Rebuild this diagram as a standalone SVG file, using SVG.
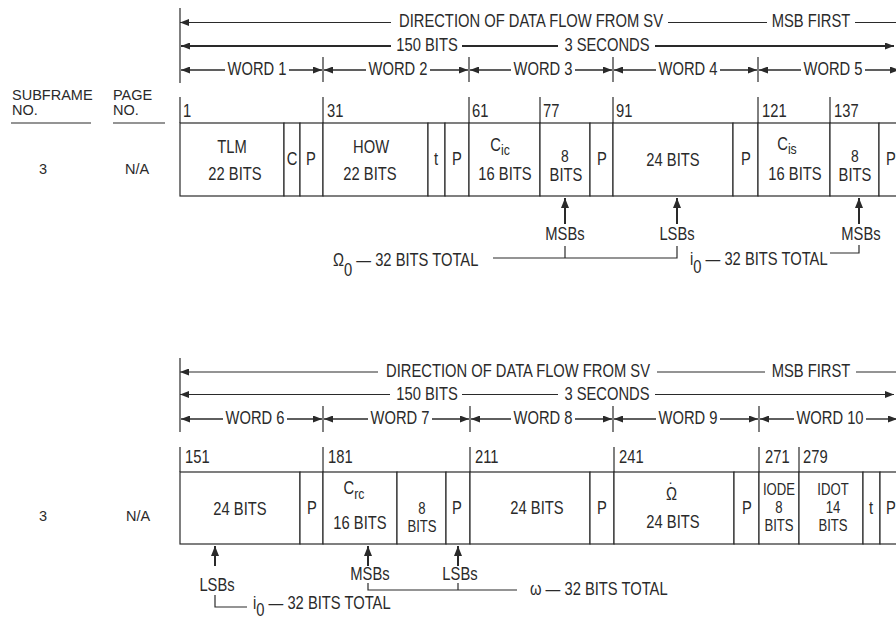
<svg xmlns="http://www.w3.org/2000/svg" width="896" height="619" viewBox="0 0 896 619">
<style>
text{font-family:"Liberation Sans",Arial,Helvetica,sans-serif;fill:#2a2a2a}
.m,.s{font-size:18px;transform-box:fill-box;transform:scaleX(0.82)}
.m{text-anchor:middle;transform-origin:50% 50%}
.s{text-anchor:start;transform-origin:0% 50%}
.m2{font-size:16px}
.m3{font-size:17px}
.lb{font-size:14.5px}
.lbm{font-size:14.5px;text-anchor:middle}
.sb{font-size:15px}
.ln{stroke:#2a2a2a;stroke-width:1.2;fill:none}
.th{stroke:#2a2a2a;stroke-width:2;fill:none}
.ar{stroke:#2a2a2a;stroke-width:1.4;fill:none}
.va{stroke:#2a2a2a;stroke-width:2;fill:none}
.cell{fill:#fff;stroke:#2a2a2a;stroke-width:1.2}
</style>
<defs>
<marker id="ah" viewBox="0 0 9 7" refX="9" refY="3.5" markerWidth="9" markerHeight="7" markerUnits="userSpaceOnUse" orient="auto-start-reverse">
<path d="M0,0 L9,3.5 L0,7 z" fill="#2a2a2a"/>
</marker>
<marker id="vh" viewBox="0 0 10 8" refX="10" refY="4" markerWidth="10" markerHeight="8" markerUnits="userSpaceOnUse" orient="auto">
<path d="M0,0 L10,4 L0,8 z" fill="#2a2a2a"/>
</marker>
</defs>
<rect width="896" height="619" fill="#fff"/>

<!-- column headers -->
<g id="hdr-subframe">
<text class="lb" x="12" y="100">SUBFRAME</text>
<text class="lb" x="12" y="115">NO.</text>
<line class="ln" x1="11" y1="123" x2="91" y2="123"/>
</g>
<g id="hdr-page">
<text class="lb" x="113" y="100">PAGE</text>
<text class="lb" x="113" y="115">NO.</text>
<line class="ln" x1="113" y1="123" x2="165" y2="123"/>
</g>
<g id="row1-labels">
<text class="lbm" x="43" y="174">3</text>
<text class="lbm" x="137" y="174">N/A</text>
</g>
<g id="row2-labels">
<text class="lbm" x="43" y="521">3</text>
<text class="lbm" x="138" y="521">N/A</text>
</g>

<!-- top header texts -->
<g id="top-header">
<text class="m" x="531" y="27">DIRECTION OF DATA FLOW FROM SV</text>
<text class="m" x="811" y="27">MSB FIRST</text>
<text class="m" x="427" y="51">150 BITS</text>
<text class="m" x="607" y="51">3 SECONDS</text>
<text class="m" x="257" y="75.5">WORD 1</text>
<text class="m" x="398" y="75.5">WORD 2</text>
<text class="m" x="543" y="75.5">WORD 3</text>
<text class="m" x="688" y="75.5">WORD 4</text>
<text class="m" x="833" y="75.5">WORD 5</text>
<text class="s" x="183" y="117">1</text>
<text class="s" x="327" y="117">31</text>
<text class="s" x="472" y="117">61</text>
<text class="s" x="543" y="117">77</text>
<text class="s" x="616" y="117">91</text>
<text class="s" x="762" y="117">121</text>
<text class="s" x="834" y="117">137</text>
</g>

<!-- top table cells -->
<g id="tlm"><rect class="cell" x="180" y="123" width="104" height="73"/><text class="m" x="232" y="153">TLM</text><text class="m" x="235" y="180">22 BITS</text></g>
<g id="c1"><rect class="cell" x="284" y="123" width="16" height="73"/><text class="m" x="292" y="165">C</text></g>
<g id="p1"><rect class="cell" x="300" y="123" width="23" height="73"/><text class="m" x="311" y="165">P</text></g>
<g id="how"><rect class="cell" x="323" y="123" width="105" height="73"/><text class="m" x="371" y="153">HOW</text><text class="m" x="370" y="180">22 BITS</text></g>
<g id="t1"><rect class="cell" x="428" y="123" width="17" height="73"/><text class="m" x="436" y="165">t</text></g>
<g id="p2"><rect class="cell" x="445" y="123" width="24" height="73"/><text class="m" x="457" y="165">P</text></g>
<g id="cic"><rect class="cell" x="469" y="123" width="71" height="73"/><text class="m" x="500" y="151">C<tspan class="sb" dy="4">ic</tspan></text><text class="m" x="505" y="180">16 BITS</text></g>
<g id="omega0-lsb8"><rect class="cell" x="540" y="123" width="50" height="73"/><text class="m m3" x="565" y="162">8</text><text class="m" x="566" y="181">BITS</text></g>
<g id="p3"><rect class="cell" x="590" y="123" width="23" height="73"/><text class="m" x="602" y="165">P</text></g>
<g id="omega0-lsb24"><rect class="cell" x="613" y="123" width="120" height="73"/><text class="m" x="673" y="166">24 BITS</text></g>
<g id="p4"><rect class="cell" x="733" y="123" width="25" height="73"/><text class="m" x="746" y="165">P</text></g>
<g id="cis"><rect class="cell" x="758" y="123" width="72" height="73"/><text class="m" x="787" y="150">C<tspan class="sb" dy="4">is</tspan></text><text class="m" x="795" y="180">16 BITS</text></g>
<g id="i0-msb8"><rect class="cell" x="830" y="123" width="49" height="73"/><text class="m m3" x="855" y="162">8</text><text class="m" x="855" y="181">BITS</text></g>
<g id="p5"><rect class="cell" x="879" y="123" width="30" height="73"/><text class="s" x="886" y="165">P</text></g>

<!-- top annotations -->
<g id="top-notes">
<text class="m" x="565" y="240">MSBs</text>
<text class="m" x="677" y="240">LSBs</text>
<text class="m" x="861" y="240">MSBs</text>
<text class="s" x="333" y="266">Ω<tspan dy="10">0</tspan><tspan dy="-10"> — 32 BITS TOTAL</tspan></text>
<text class="s" x="690" y="265">i<tspan dy="8">0</tspan><tspan dy="-8"> — 32 BITS TOTAL</tspan></text>
</g>

<!-- bottom header texts -->
<g id="bottom-header">
<text class="m" x="518" y="377">DIRECTION OF DATA FLOW FROM SV</text>
<text class="m" x="811" y="377">MSB FIRST</text>
<text class="m" x="427" y="400">150 BITS</text>
<text class="m" x="607" y="400">3 SECONDS</text>
<text class="m" x="255" y="424.5">WORD 6</text>
<text class="m" x="400" y="424.5">WORD 7</text>
<text class="m" x="543" y="424.5">WORD 8</text>
<text class="m" x="688" y="424.5">WORD 9</text>
<text class="m" x="830" y="424.5">WORD 10</text>
<text class="s" x="185" y="463">151</text>
<text class="s" x="328" y="463">181</text>
<text class="s" x="475" y="463">211</text>
<text class="s" x="619" y="463">241</text>
<text class="s" x="765" y="463">271</text>
<text class="s" x="803" y="463">279</text>
</g>

<!-- bottom table cells -->
<g id="i0-lsb24"><rect class="cell" x="180" y="472" width="120" height="72"/><text class="m" x="240" y="515">24 BITS</text></g>
<g id="p6"><rect class="cell" x="300" y="472" width="23" height="72"/><text class="m" x="312" y="514">P</text></g>
<g id="crc"><rect class="cell" x="323" y="472" width="74" height="72"/><text class="m" x="354" y="494">C<tspan class="sb" dy="5">rc</tspan></text><text class="m" x="360" y="529">16 BITS</text></g>
<g id="omega-msb8"><rect class="cell" x="397" y="472" width="49" height="72"/><text class="m m2" x="422" y="514">8</text><text class="m m2" x="422" y="532">BITS</text></g>
<g id="p7"><rect class="cell" x="446" y="472" width="24" height="72"/><text class="m" x="457" y="514">P</text></g>
<g id="omega-lsb24"><rect class="cell" x="470" y="472" width="120" height="72"/><text class="m" x="537" y="514">24 BITS</text></g>
<g id="p8"><rect class="cell" x="590" y="472" width="24" height="72"/><text class="m" x="602" y="514">P</text></g>
<g id="omegadot"><rect class="cell" x="614" y="472" width="120" height="72"/><text class="s" x="666" y="500">Ω<tspan dx="-10" dy="-4">˙</tspan></text><text class="m" x="673" y="528">24 BITS</text></g>
<g id="p9"><rect class="cell" x="734" y="472" width="25" height="72"/><text class="m" x="747" y="514">P</text></g>
<g id="iode"><rect class="cell" x="759" y="472" width="40" height="72"/><text class="m m2" x="779" y="495">IODE</text><text class="m m2" x="779" y="513">8</text><text class="m m2" x="779" y="531">BITS</text></g>
<g id="idot"><rect class="cell" x="799" y="472" width="64" height="72"/><text class="m m2" x="833" y="495">IDOT</text><text class="m m2" x="833" y="513">14</text><text class="m m2" x="833" y="531">BITS</text></g>
<g id="t2"><rect class="cell" x="863" y="472" width="17" height="72"/><text class="m" x="871" y="514">t</text></g>
<g id="p10"><rect class="cell" x="880" y="472" width="30" height="72"/><text class="s" x="886" y="514">P</text></g>

<!-- bottom annotations -->
<g id="bottom-notes">
<text class="m" x="217" y="591">LSBs</text>
<text class="m" x="370" y="580">MSBs</text>
<text class="m" x="460" y="580">LSBs</text>
<text class="s" x="530" y="595">ω — 32 BITS TOTAL</text>
<text class="s" x="253" y="609">i<tspan dy="7">0</tspan><tspan dy="-7"> — 32 BITS TOTAL</tspan></text>
</g>

<!-- connectors -->
<g id="connectors">
<!-- top header -->
<line class="ln" x1="180" y1="8" x2="180" y2="83"/>
<line class="ln" x1="180" y1="22.5" x2="391" y2="22.5" marker-start="url(#ah)"/>
<line class="ln" x1="668" y1="22.5" x2="767" y2="22.5"/>
<line class="ln" x1="855" y1="22.5" x2="896" y2="22.5"/>
<line class="th" x1="181" y1="46" x2="391" y2="46" marker-start="url(#ah)"/>
<line class="th" x1="462" y1="46" x2="558" y2="46"/>
<line class="th" x1="655" y1="46" x2="894" y2="46" marker-end="url(#ah)"/>
<line class="ln" x1="323" y1="57" x2="323" y2="82"/>
<line class="ln" x1="469" y1="57" x2="469" y2="82"/>
<line class="ln" x1="613" y1="57" x2="613" y2="82"/>
<line class="ln" x1="758" y1="57" x2="758" y2="82"/>
<line class="ar" x1="181" y1="70" x2="225" y2="70" marker-start="url(#ah)"/>
<line class="ar" x1="289" y1="70" x2="322" y2="70" marker-end="url(#ah)"/>
<line class="ar" x1="324" y1="70" x2="366" y2="70" marker-start="url(#ah)"/>
<line class="ar" x1="430" y1="70" x2="468" y2="70" marker-end="url(#ah)"/>
<line class="ar" x1="470" y1="70" x2="511" y2="70" marker-start="url(#ah)"/>
<line class="ar" x1="575" y1="70" x2="612" y2="70" marker-end="url(#ah)"/>
<line class="ar" x1="614" y1="70" x2="656" y2="70" marker-start="url(#ah)"/>
<line class="ar" x1="720" y1="70" x2="757" y2="70" marker-end="url(#ah)"/>
<line class="ar" x1="759" y1="70" x2="801" y2="70" marker-start="url(#ah)"/>
<line class="ar" x1="865" y1="70" x2="899" y2="70" marker-end="url(#ah)"/>
<line class="ln" x1="180" y1="97" x2="180" y2="123"/>
<line class="ln" x1="323" y1="97" x2="323" y2="123"/>
<line class="ln" x1="469" y1="97" x2="469" y2="123"/>
<line class="ln" x1="540" y1="97" x2="540" y2="123"/>
<line class="ln" x1="613" y1="97" x2="613" y2="123"/>
<line class="ln" x1="758" y1="97" x2="758" y2="123"/>
<line class="ln" x1="830" y1="97" x2="830" y2="123"/>
<!-- top pointers -->
<line class="va" x1="565" y1="224" x2="565" y2="198" marker-end="url(#vh)"/>
<line class="va" x1="677" y1="224" x2="677" y2="198" marker-end="url(#vh)"/>
<line class="va" x1="859" y1="224" x2="859" y2="198" marker-end="url(#vh)"/>
<polyline class="ln" points="493,258 677,258 677,246"/>
<line class="ln" x1="565" y1="246" x2="565" y2="258"/>
<polyline class="ln" points="830,253 859,253 859,245"/>
<!-- bottom header -->
<line class="ln" x1="180" y1="358" x2="180" y2="432"/>
<line class="ln" x1="180" y1="372" x2="378" y2="372" marker-start="url(#ah)"/>
<line class="ln" x1="657" y1="372" x2="765" y2="372"/>
<line class="ln" x1="856" y1="372" x2="896" y2="372"/>
<line class="ln" x1="180" y1="394.5" x2="390" y2="394.5" marker-start="url(#ah)"/>
<line class="ln" x1="462" y1="394.5" x2="558" y2="394.5"/>
<line class="ln" x1="655" y1="394.5" x2="894" y2="394.5" marker-end="url(#ah)"/>
<line class="ln" x1="323" y1="406" x2="323" y2="432"/>
<line class="ln" x1="470" y1="406" x2="470" y2="432"/>
<line class="ln" x1="613" y1="406" x2="613" y2="432"/>
<line class="ln" x1="759" y1="406" x2="759" y2="432"/>
<line class="ar" x1="181" y1="419" x2="223" y2="419" marker-start="url(#ah)"/>
<line class="ar" x1="287" y1="419" x2="322" y2="419" marker-end="url(#ah)"/>
<line class="ar" x1="324" y1="419" x2="368" y2="419" marker-start="url(#ah)"/>
<line class="ar" x1="432" y1="419" x2="469" y2="419" marker-end="url(#ah)"/>
<line class="ar" x1="471" y1="419" x2="511" y2="419" marker-start="url(#ah)"/>
<line class="ar" x1="575" y1="419" x2="612" y2="419" marker-end="url(#ah)"/>
<line class="ar" x1="614" y1="419" x2="656" y2="419" marker-start="url(#ah)"/>
<line class="ar" x1="720" y1="419" x2="758" y2="419" marker-end="url(#ah)"/>
<line class="ar" x1="760" y1="419" x2="794" y2="419" marker-start="url(#ah)"/>
<line class="ar" x1="866" y1="419" x2="897" y2="419" marker-end="url(#ah)"/>
<line class="ln" x1="180" y1="447" x2="180" y2="472"/>
<line class="ln" x1="323" y1="447" x2="323" y2="472"/>
<line class="ln" x1="470" y1="447" x2="470" y2="472"/>
<line class="ln" x1="614" y1="447" x2="614" y2="472"/>
<line class="ln" x1="759" y1="447" x2="759" y2="472"/>
<line class="ln" x1="799" y1="447" x2="799" y2="472"/>
<!-- bottom pointers -->
<line class="va" x1="215" y1="566" x2="215" y2="546" marker-end="url(#vh)"/>
<line class="va" x1="368" y1="566" x2="368" y2="546" marker-end="url(#vh)"/>
<line class="va" x1="458" y1="566" x2="458" y2="546" marker-end="url(#vh)"/>
<polyline class="ln" points="368,583 368,590 517,590"/>
<line class="ln" x1="458" y1="583" x2="458" y2="590"/>
<polyline class="ln" points="215,595 215,607 247,607"/>
</g>
</svg>
